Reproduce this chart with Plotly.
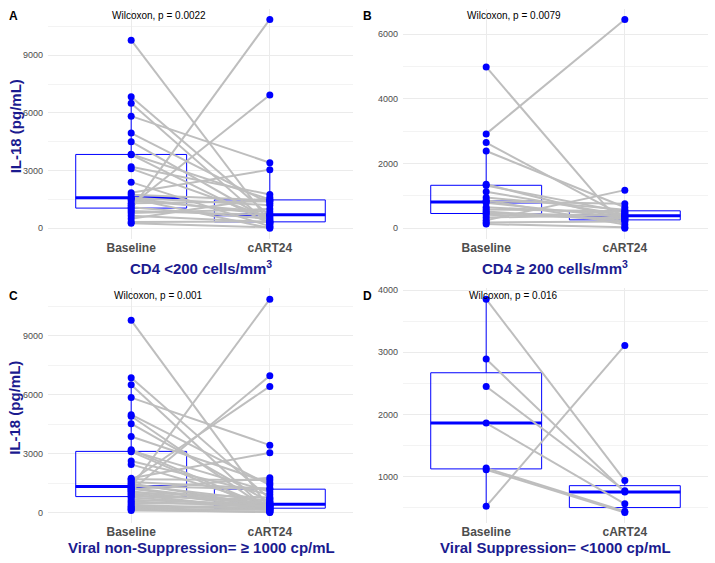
import numpy as np
import plotly.graph_objects as go

# ---------------- data (IL-18, pg/mL), paired Baseline -> cART24 ----------------
categories = ["Baseline", "cART24"]

a_baseline = [9780, 6840, 6500, 5830, 4950, 4500, 3850, 3830, 3200, 3100, 2400, 1850, 1750, 1590,
              1560, 1550, 1450, 1300, 1200, 1100, 1000, 900, 800, 650, 500, 330, 260]
a_cart24 = [300, 650, 180, 3410, 1300, 400, 1500, 250, 1760, 550, 100, 3050, 1450, 1200,
            710, 0, 850, 1400, 6930, 480, 10860, 690, 1000, 320, 1600, 350, 50]

b_baseline = [4990, 2920, 2650, 2390, 1360, 1320, 1130, 950, 870, 830, 790, 650, 580, 520,
              470, 420, 330, 250, 180, 130]
b_cart24 = [0, 6460, 360, 650, 270, 500, 400, 570, 120, 760, 330, 450, 530, 230,
            380, 300, 420, 1180, 210, 30]

c_baseline = [9780, 6860, 6500, 5850, 4980, 4900, 4520, 3870, 3200, 3150, 3100, 2620, 2450, 1750,
              1700, 1620, 1550, 1480, 1420, 1350, 1290, 1250, 1210, 1170, 1120, 1080, 1020, 960,
              900, 830, 760, 650, 560, 480, 400, 320, 260, 200, 150, 100]
c_cart24 = [190, 700, 0, 3430, 1400, 100, 520, 1500, 225, 1050, 80, 900, 410, 3040,
            1650, 6420, 1220, 350, 580, 1180, 10860, 440, 330, 1770, 6960, 260, 760, 480,
            170, 650, 290, 390, 310, 400, 150, 210, 370, 130, 20, 50]

d_baseline = [3855, 2890, 2450, 1860, 1135, 1110, 520]
d_cart24 = [935, 750, 770, 560, 440, 420, 3110]

panel_letters = ["A", "B", "C", "D"]
p_labels = ["Wilcoxon, p = 0.0022", "Wilcoxon, p = 0.0079", "Wilcoxon, p = 0.001", "Wilcoxon, p = 0.016"]
x_titles = ["CD4 <200 cells/mm<sup>3</sup>", "CD4 \u2265 200 cells/mm<sup>3</sup>",
            "Viral non-Suppression= \u2265 1000 cp/mL", "Viral Suppression= <1000 cp/mL"]
y_title = "IL-18 (pg/mL)"
y_dticks = [3000, 2000, 3000, 1000]

# ---------------- styling ----------------
BLUE = "#0000FF"
GREY_LINE = "#BEBEBE"
NAVY = "#1B1B8F"
FONT = "Liberation Sans, Arial, sans-serif"
W, H = 715, 563

xdoms = [[48 / W, 353 / W], [403 / W, 708 / W]]
ydoms = [[326 / H, 557 / H], [40 / H, 276 / H]]

data_sets = [(a_baseline, a_cart24), (b_baseline, b_cart24), (c_baseline, c_cart24), (d_baseline, d_cart24)]


def box_stats(v):
    v = np.asarray(v, dtype=float)
    q1, med, q3 = np.percentile(v, [25, 50, 75])
    iqr = q3 - q1
    lo = v[v >= q1 - 1.5 * iqr].min()
    hi = v[v <= q3 + 1.5 * iqr].max()
    return q1, med, q3, lo, hi


fig = go.Figure()
annotations = []
layout_axes = {}

for i, (base, post) in enumerate(data_sets):
    r, c = divmod(i, 2)
    sfx = "" if i == 0 else str(i + 1)
    xa, ya = "x" + sfx, "y" + sfx

    # boxes
    for pos, vals in ((1, base), (2, post)):
        q1, med, q3, lo, hi = box_stats(vals)
        fig.add_trace(go.Box(
            x=[pos], q1=[q1], median=[med], q3=[q3], lowerfence=[lo], upperfence=[hi],
            width=0.8, whiskerwidth=0, boxpoints=False,
            line=dict(color=BLUE, width=1), fillcolor="rgba(0,0,0,0)",
            xaxis=xa, yaxis=ya, showlegend=False, hoverinfo="skip"))
        fig.add_trace(go.Scatter(
            x=[pos - 0.4, pos + 0.4], y=[med, med], mode="lines",
            line=dict(color=BLUE, width=3), xaxis=xa, yaxis=ya,
            showlegend=False, hoverinfo="skip"))

    # paired lines
    lx, ly = [], []
    for b, p in zip(base, post):
        lx += [1, 2, None]
        ly += [b, p, None]
    fig.add_trace(go.Scatter(x=lx, y=ly, mode="lines",
                             line=dict(color=GREY_LINE, width=2),
                             xaxis=xa, yaxis=ya, showlegend=False, hoverinfo="skip"))

    # points
    fig.add_trace(go.Scatter(x=[1] * len(base) + [2] * len(post), y=list(base) + list(post),
                             mode="markers", marker=dict(color=BLUE, size=7),
                             xaxis=xa, yaxis=ya, showlegend=False))

    allv = np.array(list(base) + list(post), dtype=float)
    span = allv.max() - allv.min()
    yr = [allv.min() - 0.05 * span, allv.max() + 0.05 * span]
    dt = y_dticks[i]

    layout_axes["xaxis" + sfx] = dict(
        domain=xdoms[c], anchor=ya, range=[0.4, 2.6],
        tickmode="array", tickvals=[1, 2], ticktext=categories,
        showgrid=True, gridcolor="#EBEBEB", gridwidth=1, zeroline=False,
        showline=False, ticks="",
        tickfont=dict(family=FONT, size=12, color="#4D4D4D", weight="bold"))
    layout_axes["yaxis" + sfx] = dict(
        domain=ydoms[r], anchor=xa, range=yr, tickformat="d",
        tick0=0, dtick=dt, showgrid=True, gridcolor="#EBEBEB", gridwidth=1,
        zeroline=False, showline=False, ticks="", ticklabelstandoff=4,
        minor=dict(dtick=dt / 2, tick0=0, showgrid=True, gridcolor="#F3F3F3", gridwidth=0.6),
        tickfont=dict(family=FONT, size=9, color="#4D4D4D"))

    # p-value label
    annotations.append(dict(x=1.2, y=0.97, xref=xa, yref=ya + " domain", text=p_labels[i],
                            showarrow=False, xanchor="center", yanchor="middle",
                            font=dict(family=FONT, size=10, color="black")))
    # panel letter
    lx_px = [13, 368][c]
    ly_px = [13, 295][r]
    annotations.append(dict(x=lx_px / W, y=1 - ly_px / H, xref="paper", yref="paper",
                            text="<b>%s</b>" % panel_letters[i], showarrow=False,
                            xanchor="center", yanchor="middle",
                            font=dict(family=FONT, size=12, color="black")))
    # x title
    tx_px = [201, 555][c]
    ty_px = [266, 547][r]
    annotations.append(dict(x=tx_px / W, y=1 - ty_px / H, xref="paper", yref="paper",
                            text="<b>%s</b>" % x_titles[i], showarrow=False,
                            xanchor="center", yanchor="middle",
                            font=dict(family=FONT, size=15, color=NAVY)))
    # y title (left column only)
    if c == 0:
        yy_px = [124, 407][r]
        annotations.append(dict(x=15 / W, y=1 - yy_px / H, xref="paper", yref="paper",
                                text="<b>%s</b>" % y_title, showarrow=False, textangle=-90,
                                xanchor="center", yanchor="middle",
                                font=dict(family=FONT, size=15, color=NAVY)))

fig.update_layout(
    width=W, height=H, margin=dict(l=0, r=0, t=0, b=0),
    paper_bgcolor="white", plot_bgcolor="white",
    showlegend=False, annotations=annotations, boxmode="overlay",
    font=dict(family=FONT),
    **layout_axes)

fig.write_html("out.html", config={"displayModeBar": False},
               post_script="document.body.style.margin='0';document.body.style.padding='0';")
